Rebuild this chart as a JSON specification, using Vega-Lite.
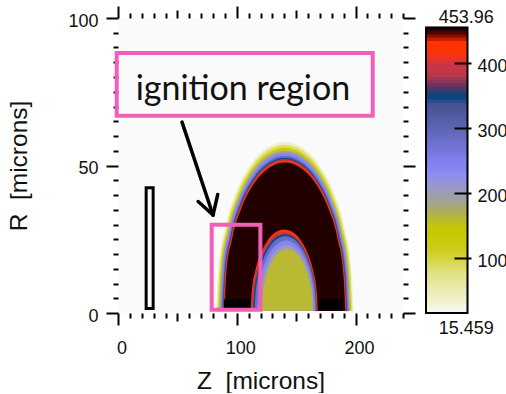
{
  "$schema": "https://vega.github.io/schema/vega-lite/v6.json",
  "padding": {"left": 6, "top": 5, "right": 0, "bottom": 0},
  "spacing": 23,
  "bounds": "flush",
  "config": {
    "font": "Liberation Sans",
    "view": {"stroke": null},
    "axis": {
      "domain": false,
      "grid": false,
      "tickColor": "#000",
      "tickWidth": 2,
      "labelFont": "Liberation Sans",
      "labelFontSize": 18,
      "labelColor": "#111",
      "labelFlush": false,
      "labelOverlap": false,
      "titleFont": "Liberation Sans",
      "titleFontSize": 24.5,
      "titleFontWeight": "normal",
      "titleColor": "#111"
    }
  },
  "hconcat": [
    {
      "width": 285,
      "height": 295,
      "view": {"fill": "#fafafa", "stroke": null},
      "resolve": {"axis": {"x": "independent", "y": "independent"}},
      "layer": [
        {
          "data": {"values": [
            {"k":1,"T":40,"Z":198.5,"R":0},{"k":1,"T":40,"Z":196.52,"R":15.01},{"k":1,"T":40,"Z":190.73,"R":29},{"k":1,"T":40,"Z":181.51,"R":41.01},{"k":1,"T":40,"Z":169.5,"R":50.23},{"k":1,"T":40,"Z":155.51,"R":56.02},{"k":1,"T":40,"Z":140.5,"R":58},{"k":1,"T":40,"Z":125.49,"R":56.02},{"k":1,"T":40,"Z":111.5,"R":50.23},{"k":1,"T":40,"Z":99.49,"R":41.01},{"k":1,"T":40,"Z":90.27,"R":29},{"k":1,"T":40,"Z":84.48,"R":15.01},{"k":1,"T":40,"Z":82.5,"R":0},
            {"k":2,"T":85,"Z":197.5,"R":0},{"k":2,"T":85,"Z":195.56,"R":14.75},{"k":2,"T":85,"Z":189.86,"R":28.5},{"k":2,"T":85,"Z":180.8,"R":40.3},{"k":2,"T":85,"Z":169,"R":49.36},{"k":2,"T":85,"Z":155.25,"R":55.06},{"k":2,"T":85,"Z":140.5,"R":57},{"k":2,"T":85,"Z":125.75,"R":55.06},{"k":2,"T":85,"Z":112,"R":49.36},{"k":2,"T":85,"Z":100.2,"R":40.3},{"k":2,"T":85,"Z":91.14,"R":28.5},{"k":2,"T":85,"Z":85.44,"R":14.75},{"k":2,"T":85,"Z":83.5,"R":0},
            {"k":3,"T":130,"Z":196.5,"R":0},{"k":3,"T":130,"Z":194.59,"R":14.49},{"k":3,"T":130,"Z":189,"R":28},{"k":3,"T":130,"Z":180.1,"R":39.6},{"k":3,"T":130,"Z":168.5,"R":48.5},{"k":3,"T":130,"Z":154.99,"R":54.09},{"k":3,"T":130,"Z":140.5,"R":56},{"k":3,"T":130,"Z":126.01,"R":54.09},{"k":3,"T":130,"Z":112.5,"R":48.5},{"k":3,"T":130,"Z":100.9,"R":39.6},{"k":3,"T":130,"Z":92,"R":28},{"k":3,"T":130,"Z":86.41,"R":14.49},{"k":3,"T":130,"Z":84.5,"R":0},
            {"k":4,"T":200,"Z":195.5,"R":0},{"k":4,"T":200,"Z":193.62,"R":14.23},{"k":4,"T":200,"Z":188.13,"R":27.5},{"k":4,"T":200,"Z":179.39,"R":38.89},{"k":4,"T":200,"Z":168,"R":47.63},{"k":4,"T":200,"Z":154.73,"R":53.12},{"k":4,"T":200,"Z":140.5,"R":55},{"k":4,"T":200,"Z":126.27,"R":53.12},{"k":4,"T":200,"Z":113,"R":47.63},{"k":4,"T":200,"Z":101.61,"R":38.89},{"k":4,"T":200,"Z":92.87,"R":27.5},{"k":4,"T":200,"Z":87.38,"R":14.23},{"k":4,"T":200,"Z":85.5,"R":0},
            {"k":5,"T":240,"Z":194.7,"R":0},{"k":5,"T":240,"Z":192.85,"R":14.03},{"k":5,"T":240,"Z":187.44,"R":27.1},{"k":5,"T":240,"Z":178.82,"R":38.32},{"k":5,"T":240,"Z":167.6,"R":46.94},{"k":5,"T":240,"Z":154.53,"R":52.35},{"k":5,"T":240,"Z":140.5,"R":54.2},{"k":5,"T":240,"Z":126.47,"R":52.35},{"k":5,"T":240,"Z":113.4,"R":46.94},{"k":5,"T":240,"Z":102.18,"R":38.32},{"k":5,"T":240,"Z":93.56,"R":27.1},{"k":5,"T":240,"Z":88.15,"R":14.03},{"k":5,"T":240,"Z":86.3,"R":0},
            {"k":6,"T":290,"Z":193.8,"R":0},{"k":6,"T":290,"Z":191.98,"R":13.79},{"k":6,"T":290,"Z":186.66,"R":26.65},{"k":6,"T":290,"Z":178.19,"R":37.69},{"k":6,"T":290,"Z":167.15,"R":46.16},{"k":6,"T":290,"Z":154.29,"R":51.48},{"k":6,"T":290,"Z":140.5,"R":53.3},{"k":6,"T":290,"Z":126.71,"R":51.48},{"k":6,"T":290,"Z":113.85,"R":46.16},{"k":6,"T":290,"Z":102.81,"R":37.69},{"k":6,"T":290,"Z":94.34,"R":26.65},{"k":6,"T":290,"Z":89.02,"R":13.79},{"k":6,"T":290,"Z":87.2,"R":0},
            {"k":7,"T":343,"Z":193.1,"R":0},{"k":7,"T":343,"Z":191.31,"R":13.61},{"k":7,"T":343,"Z":186.05,"R":26.3},{"k":7,"T":343,"Z":177.69,"R":37.19},{"k":7,"T":343,"Z":166.8,"R":45.55},{"k":7,"T":343,"Z":154.11,"R":50.81},{"k":7,"T":343,"Z":140.5,"R":52.6},{"k":7,"T":343,"Z":126.89,"R":50.81},{"k":7,"T":343,"Z":114.2,"R":45.55},{"k":7,"T":343,"Z":103.31,"R":37.19},{"k":7,"T":343,"Z":94.95,"R":26.3},{"k":7,"T":343,"Z":89.69,"R":13.61},{"k":7,"T":343,"Z":87.9,"R":0},
            {"k":8,"T":392,"Z":192.6,"R":0},{"k":8,"T":392,"Z":190.82,"R":13.48},{"k":8,"T":392,"Z":185.62,"R":26.05},{"k":8,"T":392,"Z":177.34,"R":36.84},{"k":8,"T":392,"Z":166.55,"R":45.12},{"k":8,"T":392,"Z":153.98,"R":50.32},{"k":8,"T":392,"Z":140.5,"R":52.1},{"k":8,"T":392,"Z":127.02,"R":50.32},{"k":8,"T":392,"Z":114.45,"R":45.12},{"k":8,"T":392,"Z":103.66,"R":36.84},{"k":8,"T":392,"Z":95.38,"R":26.05},{"k":8,"T":392,"Z":90.18,"R":13.48},{"k":8,"T":392,"Z":88.4,"R":0},
            {"k":9,"T":426,"Z":192.1,"R":0},{"k":9,"T":426,"Z":190.34,"R":13.35},{"k":9,"T":426,"Z":185.19,"R":25.8},{"k":9,"T":426,"Z":176.99,"R":36.49},{"k":9,"T":426,"Z":166.3,"R":44.69},{"k":9,"T":426,"Z":153.85,"R":49.84},{"k":9,"T":426,"Z":140.5,"R":51.6},{"k":9,"T":426,"Z":127.15,"R":49.84},{"k":9,"T":426,"Z":114.7,"R":44.69},{"k":9,"T":426,"Z":104.01,"R":36.49},{"k":9,"T":426,"Z":95.81,"R":25.8},{"k":9,"T":426,"Z":90.66,"R":13.35},{"k":9,"T":426,"Z":88.9,"R":0},
            {"k":10,"T":453,"Z":191.5,"R":0},{"k":10,"T":453,"Z":189.76,"R":13.2},{"k":10,"T":453,"Z":184.67,"R":25.5},{"k":10,"T":453,"Z":176.56,"R":36.06},{"k":10,"T":453,"Z":166,"R":44.17},{"k":10,"T":453,"Z":153.7,"R":49.26},{"k":10,"T":453,"Z":140.5,"R":51},{"k":10,"T":453,"Z":127.3,"R":49.26},{"k":10,"T":453,"Z":115,"R":44.17},{"k":10,"T":453,"Z":104.44,"R":36.06},{"k":10,"T":453,"Z":96.33,"R":25.5},{"k":10,"T":453,"Z":91.24,"R":13.2},{"k":10,"T":453,"Z":89.5,"R":0},
            {"k":11,"T":426,"Z":168.3,"R":0},{"k":11,"T":426,"Z":167.34,"R":7.32},{"k":11,"T":426,"Z":164.51,"R":14.15},{"k":11,"T":426,"Z":160.01,"R":20.01},{"k":11,"T":426,"Z":154.15,"R":24.51},{"k":11,"T":426,"Z":147.32,"R":27.34},{"k":11,"T":426,"Z":140,"R":28.3},{"k":11,"T":426,"Z":132.68,"R":27.34},{"k":11,"T":426,"Z":125.85,"R":24.51},{"k":11,"T":426,"Z":119.99,"R":20.01},{"k":11,"T":426,"Z":115.49,"R":14.15},{"k":11,"T":426,"Z":112.66,"R":7.32},{"k":11,"T":426,"Z":111.7,"R":0},
            {"k":12,"T":390,"Z":167.5,"R":0},{"k":12,"T":390,"Z":166.56,"R":7.12},{"k":12,"T":390,"Z":163.82,"R":13.75},{"k":12,"T":390,"Z":159.45,"R":19.45},{"k":12,"T":390,"Z":153.75,"R":23.82},{"k":12,"T":390,"Z":147.12,"R":26.56},{"k":12,"T":390,"Z":140,"R":27.5},{"k":12,"T":390,"Z":132.88,"R":26.56},{"k":12,"T":390,"Z":126.25,"R":23.82},{"k":12,"T":390,"Z":120.55,"R":19.45},{"k":12,"T":390,"Z":116.18,"R":13.75},{"k":12,"T":390,"Z":113.44,"R":7.12},{"k":12,"T":390,"Z":112.5,"R":0},
            {"k":13,"T":343,"Z":167.3,"R":0},{"k":13,"T":343,"Z":166.39,"R":6.94},{"k":13,"T":343,"Z":163.71,"R":13.4},{"k":13,"T":343,"Z":159.45,"R":18.95},{"k":13,"T":343,"Z":153.9,"R":23.21},{"k":13,"T":343,"Z":147.44,"R":25.89},{"k":13,"T":343,"Z":140.5,"R":26.8},{"k":13,"T":343,"Z":133.56,"R":25.89},{"k":13,"T":343,"Z":127.1,"R":23.21},{"k":13,"T":343,"Z":121.55,"R":18.95},{"k":13,"T":343,"Z":117.29,"R":13.4},{"k":13,"T":343,"Z":114.61,"R":6.94},{"k":13,"T":343,"Z":113.7,"R":0},
            {"k":14,"T":285,"Z":167,"R":0},{"k":14,"T":285,"Z":166.11,"R":6.73},{"k":14,"T":285,"Z":163.52,"R":13},{"k":14,"T":285,"Z":159.38,"R":18.38},{"k":14,"T":285,"Z":154,"R":22.52},{"k":14,"T":285,"Z":147.73,"R":25.11},{"k":14,"T":285,"Z":141,"R":26},{"k":14,"T":285,"Z":134.27,"R":25.11},{"k":14,"T":285,"Z":128,"R":22.52},{"k":14,"T":285,"Z":122.62,"R":18.38},{"k":14,"T":285,"Z":118.48,"R":13},{"k":14,"T":285,"Z":115.89,"R":6.73},{"k":14,"T":285,"Z":115,"R":0},
            {"k":15,"T":240,"Z":166.1,"R":0},{"k":15,"T":240,"Z":165.26,"R":6.37},{"k":15,"T":240,"Z":162.8,"R":12.3},{"k":15,"T":240,"Z":158.89,"R":17.39},{"k":15,"T":240,"Z":153.8,"R":21.3},{"k":15,"T":240,"Z":147.87,"R":23.76},{"k":15,"T":240,"Z":141.5,"R":24.6},{"k":15,"T":240,"Z":135.13,"R":23.76},{"k":15,"T":240,"Z":129.2,"R":21.3},{"k":15,"T":240,"Z":124.11,"R":17.39},{"k":15,"T":240,"Z":120.2,"R":12.3},{"k":15,"T":240,"Z":117.74,"R":6.37},{"k":15,"T":240,"Z":116.9,"R":0},
            {"k":16,"T":200,"Z":165,"R":0},{"k":16,"T":200,"Z":164.22,"R":5.95},{"k":16,"T":200,"Z":161.92,"R":11.5},{"k":16,"T":200,"Z":158.26,"R":16.26},{"k":16,"T":200,"Z":153.5,"R":19.92},{"k":16,"T":200,"Z":147.95,"R":22.22},{"k":16,"T":200,"Z":142,"R":23},{"k":16,"T":200,"Z":136.05,"R":22.22},{"k":16,"T":200,"Z":130.5,"R":19.92},{"k":16,"T":200,"Z":125.74,"R":16.26},{"k":16,"T":200,"Z":122.08,"R":11.5},{"k":16,"T":200,"Z":119.78,"R":5.95},{"k":16,"T":200,"Z":119,"R":0},
            {"k":17,"T":162,"Z":164.1,"R":0},{"k":17,"T":162,"Z":163.36,"R":5.59},{"k":17,"T":162,"Z":161.21,"R":10.8},{"k":17,"T":162,"Z":157.77,"R":15.27},{"k":17,"T":162,"Z":153.3,"R":18.71},{"k":17,"T":162,"Z":148.09,"R":20.86},{"k":17,"T":162,"Z":142.5,"R":21.6},{"k":17,"T":162,"Z":136.91,"R":20.86},{"k":17,"T":162,"Z":131.7,"R":18.71},{"k":17,"T":162,"Z":127.23,"R":15.27},{"k":17,"T":162,"Z":123.79,"R":10.8},{"k":17,"T":162,"Z":121.64,"R":5.59},{"k":17,"T":162,"Z":120.9,"R":0}
          ]},
          "mark": {"type": "area", "interpolate": "monotone", "clip": true},
          "encoding": {
            "x": {
              "field": "Z", "type": "quantitative",
              "scale": {"domain": [0, 240], "nice": false, "zero": false},
              "axis": {
                "orient": "bottom",
                "values": [0,10,20,30,40,50,60,70,80,90,100,110,120,130,140,150,160,170,180,190,200,210,220,230,240],
                "labelExpr": "datum.value % 100 === 0 ? datum.label : ''",
                "tickSize": {"condition": [{"test": "datum.value % 100 === 0", "value": 12}, {"test": "datum.value % 50 === 0", "value": 8}], "value": 5},
                "labelPadding": 14.5,
                "labelOffset": 3.5,
                "title": "Z\u00a0 [microns]",
                "titlePadding": 11.5
              }
            },
            "y": {
              "field": "R", "type": "quantitative", "stack": null,
              "scale": {"domain": [0, 100], "nice": false, "zero": false},
              "axis": {
                "orient": "left",
                "values": [0,5,10,15,20,25,30,35,40,45,50,55,60,65,70,75,80,85,90,95,100],
                "labelExpr": "datum.value % 50 === 0 ? datum.label : ''",
                "tickSize": {"condition": {"test": "datum.value % 50 === 0", "value": 12}, "value": 5},
                "labelPadding": 8,
                "labelOffset": 3,
                "title": "R\u00a0 [microns]",
                "titlePadding": 36
              }
            },
            "y2": {"datum": 0.8},
            "detail": {"field": "k", "type": "nominal"},
            "color": {
              "field": "T", "type": "quantitative", "legend": null,
              "scale": {
                "type": "linear", "interpolate": "rgb", "clamp": true,
                "domain": [15.459,40,80,100,121,140,152,170,192,210,230,249,280,310,341,344,354,362,384,398,410,420,433,440,446,453.96],
                "range": ["#f8f8f2","#f0f0c8","#e0e080","#d4d440","#cccc10","#c8c800","#c4c410","#b0b050","#a0a0a0","#9a9ac8","#8c8cf4","#8080ee","#6c70cc","#5560aa","#44508f","#0a4888","#0e4478","#553366","#c03848","#cc3344","#f03322","#ff3300","#ff3300","#aa1100","#550800","#1a0000"]
              }
            }
          }
        },
        {
          "data": {"values": [
            {"Z": 89.2, "Z2": 111.2, "R": 0.8, "R2": 4.6},
            {"Z": 168.4, "Z2": 189.5, "R": 0.8, "R2": 4.6}
          ]},
          "mark": {"type": "rect", "color": "#000"},
          "encoding": {
            "x": {
              "field": "Z", "type": "quantitative",
              "axis": {
                "orient": "top",
                "values": [0,10,20,30,40,50,60,70,80,90,100,110,120,130,140,150,160,170,180,190,200,210,220,230,240],
                "labels": false,
                "tickSize": {"condition": [{"test": "datum.value % 100 === 0", "value": 12}, {"test": "datum.value % 50 === 0", "value": 8}], "value": 5},
                "title": null
              }
            },
            "x2": {"field": "Z2"},
            "y": {
              "field": "R", "type": "quantitative",
              "axis": {
                "orient": "right",
                "values": [0,5,10,15,20,25,30,35,40,45,50,55,60,65,70,75,80,85,90,95,100],
                "labels": false,
                "tickSize": {"condition": {"test": "datum.value % 50 === 0", "value": 12}, "value": 5},
                "title": null
              }
            },
            "y2": {"field": "R2"}
          }
        },
        {
          "data": {"values": [{"Z": 23.7, "Z2": 29.6, "R": 1.5, "R2": 42.5}]},
          "mark": {"type": "rect", "filled": false, "color": "#000", "strokeWidth": 3},
          "encoding": {
            "x": {"field": "Z", "type": "quantitative", "axis": null},
            "x2": {"field": "Z2"},
            "y": {"field": "R", "type": "quantitative", "axis": null},
            "y2": {"field": "R2"}
          }
        },
        {
          "data": {"values": [
            {"Z": -1.1, "Z2": 214.5, "R": 66.9, "R2": 88.1},
            {"Z": 78.9, "Z2": 119.9, "R": 1.1, "R2": 29.9}
          ]},
          "mark": {"type": "rect", "filled": false, "color": "#f060b8", "strokeWidth": 4},
          "encoding": {
            "x": {"field": "Z", "type": "quantitative", "axis": null},
            "x2": {"field": "Z2"},
            "y": {"field": "R", "type": "quantitative", "axis": null},
            "y2": {"field": "R2"}
          }
        },
        {
          "data": {"values": [
            {"Z": 53.9, "R": 64.7, "Z2": 80, "R2": 33.2},
            {"Z": 67.5, "R": 37.8, "Z2": 80, "R2": 33.2},
            {"Z": 84, "R": 40.2, "Z2": 80, "R2": 33.2}
          ]},
          "mark": {"type": "rule", "color": "#000", "strokeWidth": 3.5, "strokeCap": "round"},
          "encoding": {
            "x": {"field": "Z", "type": "quantitative", "axis": null},
            "x2": {"field": "Z2"},
            "y": {"field": "R", "type": "quantitative", "axis": null},
            "y2": {"field": "R2"}
          }
        },
        {
          "data": {"values": [{"Z": 105.2, "R": 72.3, "label": "ignition region"}]},
          "mark": {"type": "text", "font": "Lato", "fontSize": 34, "align": "center", "baseline": "alphabetic", "color": "#111"},
          "encoding": {
            "x": {"field": "Z", "type": "quantitative", "axis": null},
            "y": {"field": "R", "type": "quantitative", "axis": null},
            "text": {"field": "label"}
          }
        }
      ]
    },
    {
      "width": 41.5,
      "height": 295,
      "view": {"fill": null, "stroke": null},
      "resolve": {"axis": {"y": "independent"}},
      "layer": [
        {
          "data": {"values": [
            {"T":17.5},{"T":22.5},{"T":27.5},{"T":32.5},{"T":37.5},{"T":42.5},{"T":47.5},{"T":52.5},{"T":57.5},{"T":62.5},
            {"T":67.5},{"T":72.5},{"T":77.5},{"T":82.5},{"T":87.5},{"T":92.5},{"T":97.5},{"T":102.5},{"T":107.5},{"T":112.5},
            {"T":117.5},{"T":122.5},{"T":127.5},{"T":132.5},{"T":137.5},{"T":142.5},{"T":147.5},{"T":152.5},{"T":157.5},{"T":162.5},
            {"T":167.5},{"T":172.5},{"T":177.5},{"T":182.5},{"T":187.5},{"T":192.5},{"T":197.5},{"T":202.5},{"T":207.5},{"T":212.5},
            {"T":217.5},{"T":222.5},{"T":227.5},{"T":232.5},{"T":237.5},{"T":242.5},{"T":247.5},{"T":252.5},{"T":257.5},{"T":262.5},
            {"T":267.5},{"T":272.5},{"T":277.5},{"T":282.5},{"T":287.5},{"T":292.5},{"T":297.5},{"T":302.5},{"T":307.5},{"T":312.5},
            {"T":317.5},{"T":322.5},{"T":327.5},{"T":332.5},{"T":337.5},{"T":342.5},{"T":347.5},{"T":352.5},{"T":357.5},{"T":362.5},
            {"T":367.5},{"T":372.5},{"T":377.5},{"T":382.5},{"T":387.5},{"T":392.5},{"T":397.5},{"T":402.5},{"T":407.5},{"T":412.5},
            {"T":417.5},{"T":422.5},{"T":427.5},{"T":432.5},{"T":437.5},{"T":442.5},{"T":447.5},{"T":452.5}
          ]},
          "mark": {"type": "rect", "binSpacing": 0, "strokeWidth": 1},
          "encoding": {
            "y": {
              "field": "T", "type": "quantitative",
              "bin": {"step": 5, "extent": [15, 455]},
              "scale": {"domain": [15.459, 468.7], "nice": false, "zero": false},
              "axis": {
                "orient": "right",
                "values": [100, 200, 300, 400],
                "tickSize": 17,
                "offset": -13.5,
                "labelPadding": 6,
                "labelOffset": 4,
                "title": null
              }
            },
            "color": {
              "field": "T", "type": "quantitative", "legend": null,
              "scale": {
                "type": "linear", "interpolate": "rgb", "clamp": true,
                "domain": [15.459,40,80,100,121,140,152,170,192,210,230,249,280,310,341,344,354,362,384,398,410,420,433,440,446,453.96],
                "range": ["#f8f8f2","#f0f0c8","#e0e080","#d4d440","#cccc10","#c8c800","#c4c410","#b0b050","#a0a0a0","#9a9ac8","#8c8cf4","#8080ee","#6c70cc","#5560aa","#44508f","#0a4888","#0e4478","#553366","#c03848","#cc3344","#f03322","#ff3300","#ff3300","#aa1100","#550800","#1a0000"]
              }
            },
            "stroke": {
              "field": "T", "type": "quantitative", "legend": null,
              "scale": {
                "type": "linear", "interpolate": "rgb", "clamp": true,
                "domain": [15.459,40,80,100,121,140,152,170,192,210,230,249,280,310,341,344,354,362,384,398,410,420,433,440,446,453.96],
                "range": ["#f8f8f2","#f0f0c8","#e0e080","#d4d440","#cccc10","#c8c800","#c4c410","#b0b050","#a0a0a0","#9a9ac8","#8c8cf4","#8080ee","#6c70cc","#5560aa","#44508f","#0a4888","#0e4478","#553366","#c03848","#cc3344","#f03322","#ff3300","#ff3300","#aa1100","#550800","#1a0000"]
              }
            }
          }
        },
        {
          "data": {"values": [{"lo": 15.459, "hi": 453.96}]},
          "mark": {"type": "rect", "filled": false, "color": "#000", "strokeWidth": 2},
          "encoding": {
            "y": {"field": "lo", "type": "quantitative", "axis": null},
            "y2": {"field": "hi"}
          }
        },
        {
          "data": {"values": [{"T": 453.96}]},
          "mark": {"type": "text", "fontSize": 18, "align": "center", "baseline": "middle", "dx": 19.5, "dy": -10, "color": "#111"},
          "encoding": {
            "y": {"field": "T", "type": "quantitative", "axis": null},
            "text": {"field": "T", "type": "quantitative", "format": ".5r"}
          }
        },
        {
          "data": {"values": [{"T": 15.459}]},
          "mark": {"type": "text", "fontSize": 18, "align": "center", "baseline": "middle", "dx": 19.5, "dy": 16, "color": "#111"},
          "encoding": {
            "y": {"field": "T", "type": "quantitative", "axis": null},
            "text": {"field": "T", "type": "quantitative", "format": ".5r"}
          }
        }
      ]
    }
  ]
}
